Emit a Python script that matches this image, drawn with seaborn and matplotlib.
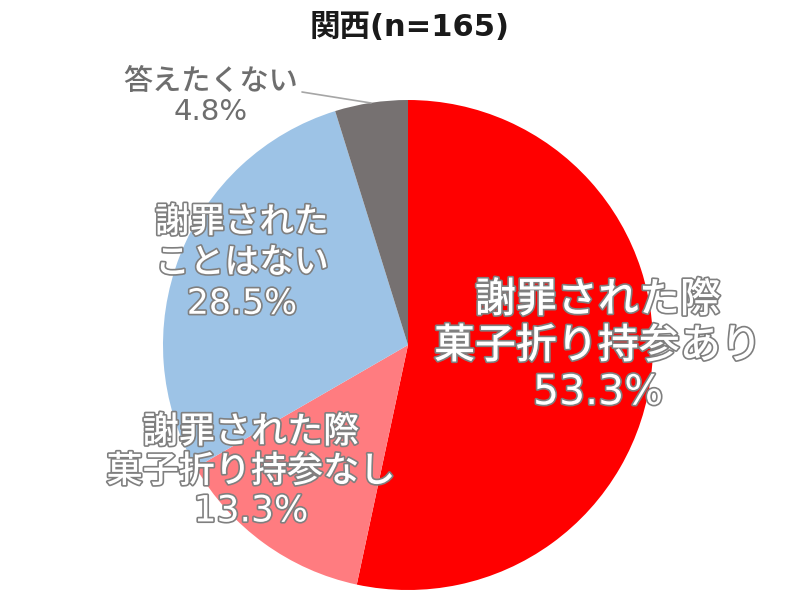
import matplotlib
matplotlib.use("Agg")
import matplotlib.pyplot as plt
import matplotlib.patheffects as pe
import seaborn as sns

title = "関西(n=165)"
categories = ["謝罪された際\n菓子折り持参あり", "謝罪された際\n菓子折り持参なし",
              "謝罪された\nことはない", "答えたくない"]
values = [53.3, 13.3, 28.5, 4.8]
colors = ["#FF0000", "#FF7C80", "#9DC3E6", "#767171"]

sns.set_theme(style="white")
FAM = ["DejaVu Sans", "Noto Sans CJK JP"]
plt.rcParams["font.family"] = FAM

fig = plt.figure(figsize=(8, 6), dpi=100)
ax = fig.add_axes([0, 0, 1, 1])

cx, cy, r = 408, 600 - 345, 245
wedges, _ = ax.pie(values, colors=colors, startangle=90, counterclock=False,
                   center=(cx, cy), radius=r, frame=True,
                   wedgeprops=dict(linewidth=0))
ax.set_xlim(0, 800)
ax.set_ylim(0, 600)
ax.set_aspect("equal")
ax.axis("off")

outline = [pe.Stroke(linewidth=2.4, foreground="#7F7F7F"), pe.Normal()]

def lab(x, y, cat, val, size, spacing):
    txt = f"{cat}\n{val:.1f}%"
    ax.text(x, 600 - y, txt, ha="center", va="center", fontsize=size,
            color="white", linespacing=spacing, family=FAM,
            fontweight="medium", path_effects=outline)

lab(598, 347, categories[0], values[0], 29.5, 1.2)
lab(251, 472, categories[1], values[1], 26, 1.2)
lab(242, 263, categories[2], values[2], 25, 1.25)

ax.text(211, 600 - 97, f"{categories[3]}\n{values[3]:.1f}%", ha="center",
        va="center", fontsize=21, color="#6E6E6E", linespacing=1.1,
        family=FAM, fontweight="medium")
ax.plot([302, 371], [600 - 92, 600 - 103], color="#A6A6A6", lw=1.2)

ax.text(410, 600 - 27, title, ha="center", va="center", fontsize=22,
        fontweight="bold", color="#1A1A1A", family=FAM)

fig.savefig("out.png", dpi=100)
